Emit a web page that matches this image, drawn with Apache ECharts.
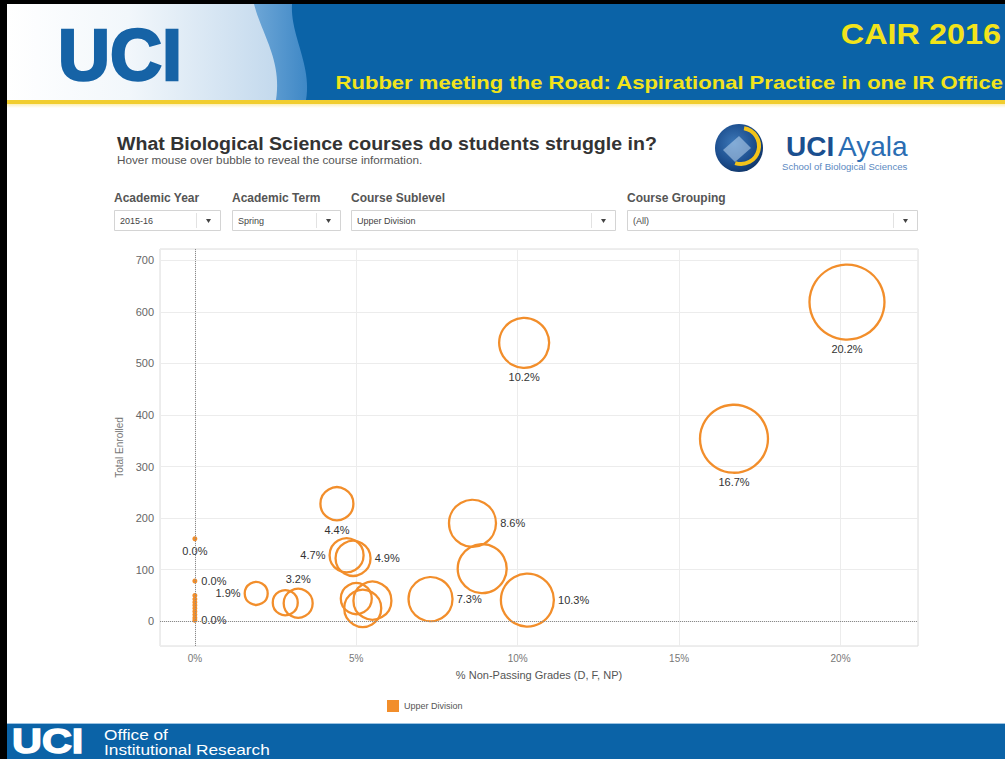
<!DOCTYPE html>
<html>
<head>
<meta charset="utf-8">
<title>What Biological Science courses do students struggle in?</title>
<script src="https://cdn.jsdelivr.net/npm/echarts@6/dist/echarts.min.js"></script>
<style>
  html, body { margin: 0; padding: 0; background: #000; }
  #chart { width: 1005px; height: 759px; }
</style>
</head>
<body>
<div id="chart"></div>
<script>
// Courses: % non-passing grades (D, F, NP) vs. total enrolled; bubble size by course measure
const pctNonPassing = [20.2, 10.2, 16.7, 4.4, 8.6, 8.9, 4.7, 4.9, 1.9, 2.8, 3.2, 5.0, 5.5, 5.2, 7.3, 10.3,
                       0.0, 0.0, 0.0, 0.0, 0.0, 0.0, 0.0, 0.0, 0.0, 0.0, 0.0];
const totalEnrolled = [619, 540, 354, 228, 190, 102, 128, 122, 54, 36, 35, 44, 40, 25, 43, 41,
                       160, 78, 50, 43, 37, 31, 25, 19, 13, 7, 2];
const sizeMeasure   = [75, 50, 68, 33, 47, 49, 34, 35, 23, 25, 29, 31, 38, 37, 44, 53,
                       0, 0, 0, 0, 0, 0, 0, 0, 0, 0, 0];

const xTickLabels = ['0%', '5%', '10%', '15%', '20%'];
const yTickLabels = ['0', '100', '200', '300', '400', '500', '600', '700'];

const seriesName = 'Upper Division';
const filterLabels = ['Academic Year', 'Academic Term', 'Course Sublevel', 'Course Grouping'];
const filterValues = ['2015-16', 'Spring', 'Upper Division', '(All)'];

// Which marks carry a value label, and where it sits
const labelPlacement = {
  0: 'bottom', 1: 'bottom', 2: 'bottom', 3: 'bottom', 4: 'right',
  6: 'left', 7: 'right', 8: 'left', 10: 'top', 14: 'right', 15: 'right',
  16: 'bottom', 17: 'right', 26: 'right'
};

const ORANGE = '#f28e2b';
const BLUE = '#0b63a7';
const YELLOW = '#f2e31b';
const FONT = '"Liberation Sans", Arial, sans-serif';

const chart = echarts.init(document.getElementById('chart'), null, { renderer: 'svg' });

const points = pctNonPassing.map((p, i) => {
  const item = { value: [p, totalEnrolled[i], sizeMeasure[i]] };
  const zero = sizeMeasure[i] === 0;
  item.itemStyle = zero
    ? { color: ORANGE, borderWidth: 0, opacity: 1 }
    : { color: 'rgba(255,255,255,0)', borderColor: ORANGE, borderWidth: 2.3, opacity: 1 };
  if (labelPlacement[i]) {
    item.label = {
      show: true,
      position: labelPlacement[i],
      distance: zero ? 4 : 3,
      offset: i === 10 ? [12, 0] : [0, 0]
    };
  }
  return item;
});

// Sample a cubic curve into polygon points (for the header's wave edge)
function wave(x0, y0, c1x, c1y, c2x, c2y, x1, y1) {
  const pts = [];
  for (let k = 0; k <= 24; k++) {
    const t = k / 24, u = 1 - t;
    pts.push([
      u * u * u * x0 + 3 * u * u * t * c1x + 3 * u * t * t * c2x + t * t * t * x1,
      u * u * u * y0 + 3 * u * u * t * c1y + 3 * u * t * t * c2y + t * t * t * y1
    ]);
  }
  return pts;
}

// Filter controls row
const filterX = [114, 232, 351, 627];
const filterW = [106, 108, 264, 290];
const filterGraphics = [];
filterLabels.forEach((t, i) => {
  filterGraphics.push({
    type: 'text', x: filterX[i], y: 198,
    style: { text: t, fill: '#555', font: 'bold 12px ' + FONT, textVerticalAlign: 'middle' }
  });
  filterGraphics.push({
    type: 'rect', shape: { x: filterX[i] + 0.5, y: 210.5, width: filterW[i], height: 20 },
    style: { fill: '#fff', stroke: '#d4d4d4', lineWidth: 1 }
  });
  filterGraphics.push({
    type: 'line', shape: { x1: filterX[i] + filterW[i] - 23.5, y1: 213, x2: filterX[i] + filterW[i] - 23.5, y2: 228 },
    style: { stroke: '#e2e2e2', lineWidth: 1 }
  });
  filterGraphics.push({
    type: 'text', x: filterX[i] + 6, y: 221,
    style: { text: filterValues[i], fill: '#444', font: '9px ' + FONT, textVerticalAlign: 'middle' }
  });
  filterGraphics.push({
    type: 'polygon',
    shape: { points: [[filterX[i] + filterW[i] - 14, 219], [filterX[i] + filterW[i] - 9, 219], [filterX[i] + filterW[i] - 11.5, 223]] },
    style: { fill: '#444' }
  });
});

const option = {
  backgroundColor: '#000',
  animation: false,
  textStyle: { fontFamily: FONT },
  graphic: [
    // slide body
    { type: 'rect', z: -10, shape: { x: 7, y: 4, width: 998, height: 755 }, style: { fill: '#fff' } },
    // header band
    { type: 'rect', z: -9, shape: { x: 7, y: 4, width: 998, height: 96 }, style: { fill: BLUE } },
    { type: 'polygon', z: -8,
      shape: { points: [[7, 4]].concat(wave(292, 4, 290, 35, 312, 65, 306, 100), [[7, 100]]) },
      style: { fill: new echarts.graphic.LinearGradient(0, 0, 1, 0, [
        { offset: 0.7, color: '#8dbbe2' }, { offset: 1, color: '#3f88c6' }]) } },
    { type: 'polygon', z: -7,
      shape: { points: [[7, 4]].concat(wave(254, 4, 262, 35, 282, 60, 276, 100), [[7, 100]]) },
      style: { fill: new echarts.graphic.LinearGradient(0, 0, 1, 0, [
        { offset: 0, color: '#ffffff' }, { offset: 0.45, color: '#f2f7fb' }, { offset: 1, color: '#c3d9ed' }]) } },
    { type: 'text', x: 58, y: 55,
      style: { text: 'UCI', fill: '#1663a6', font: 'bold 72px ' + FONT, textVerticalAlign: 'middle',
               stroke: '#1663a6', lineWidth: 2.5 } },
    { type: 'text', x: 1001, y: 34, scaleX: 1.08,
      style: { text: 'CAIR 2016', fill: YELLOW, font: 'bold 30px ' + FONT, textAlign: 'right', textVerticalAlign: 'middle' } },
    { type: 'text', x: 1003, y: 82, scaleX: 1.16,
      style: { text: 'Rubber meeting the Road: Aspirational Practice in one IR Office', fill: YELLOW,
               font: 'bold 19px ' + FONT, textAlign: 'right', textVerticalAlign: 'middle' } },
    // gold rule under the header
    { type: 'rect', shape: { x: 7, y: 100, width: 998, height: 4 }, style: { fill: '#f1cd2e' } },
    { type: 'rect', shape: { x: 7, y: 104, width: 998, height: 4 },
      style: { fill: new echarts.graphic.LinearGradient(0, 0, 0, 1, [
        { offset: 0, color: '#fbeeb8' }, { offset: 1, color: '#ffffff' }]) } },

    // dashboard title
    { type: 'text', x: 117, y: 143.5, scaleX: 1.03,
      style: { text: 'What Biological Science courses do students struggle in?', fill: '#333',
               font: 'bold 19px ' + FONT, textVerticalAlign: 'middle' } },
    { type: 'text', x: 117, y: 160.5, scaleX: 1.03,
      style: { text: 'Hover mouse over bubble to reveal the course information.', fill: '#555',
               font: '11.4px ' + FONT, textVerticalAlign: 'middle' } },

    // school logo
    { type: 'circle', shape: { cx: 739, cy: 148, r: 24 },
      style: { fill: new echarts.graphic.RadialGradient(0.4, 0.4, 0.7, [
        { offset: 0, color: '#3d78b8' }, { offset: 0.6, color: '#1d4f8f' }, { offset: 1, color: '#0d2f5f' }]) } },
    { type: 'polygon', shape: { points: [[723, 150], [739, 136], [751, 148], [735, 162]] },
      style: { fill: 'rgba(190,215,240,0.55)' } },
    { type: 'arc', shape: { cx: 741, cy: 146, r: 18, startAngle: -1.4, endAngle: 1.9 },
      style: { stroke: '#f3c31a', lineWidth: 4, fill: 'none' } },
    { type: 'text', x: 786, y: 146,
      style: { text: 'UCI', fill: '#1b4f8f', font: 'bold 28px ' + FONT, textVerticalAlign: 'middle' } },
    { type: 'text', x: 838, y: 146,
      style: { text: 'Ayala', fill: '#2a6db3', font: '28px ' + FONT, textVerticalAlign: 'middle' } },
    { type: 'text', x: 782, y: 166,
      style: { text: 'School of Biological Sciences', fill: '#5b89bf', font: '9.6px ' + FONT, textVerticalAlign: 'middle' } },

    ...filterGraphics,

    // footer band
    { type: 'rect', shape: { x: 7, y: 724, width: 998, height: 35 }, style: { fill: BLUE } },
    { type: 'rect', shape: { x: 7, y: 723, width: 998, height: 1 }, style: { fill: '#9cc3e2' } },
    { type: 'text', x: 12, y: 740, scaleX: 1.15,
      style: { text: 'UCI', fill: '#fff', font: 'bold 36px ' + FONT, textVerticalAlign: 'middle',
               stroke: '#fff', lineWidth: 1.5 } },
    { type: 'text', x: 104, y: 734, scaleX: 1.15,
      style: { text: 'Office of', fill: '#fff', font: '15px ' + FONT, textVerticalAlign: 'middle' } },
    { type: 'text', x: 104, y: 749.5, scaleX: 1.15,
      style: { text: 'Institutional Research', fill: '#fff', font: '15px ' + FONT, textVerticalAlign: 'middle' } }
  ],
  legend: {
    left: 387, top: 700, padding: 0,
    itemWidth: 12, itemHeight: 12, itemGap: 8,
    icon: 'rect',
    data: [{ name: seriesName, itemStyle: { color: ORANGE, borderWidth: 0, opacity: 1 } }],
    textStyle: { color: '#555', fontSize: 9, fontFamily: FONT }
  },
  grid: {
    left: 160, top: 249, right: 87, bottom: 113,
    show: true, borderColor: '#dcdcdc', borderWidth: 1, backgroundColor: 'transparent'
  },
  xAxis: {
    type: 'value', min: -1.08, max: 22.4, splitNumber: 5,
    name: '% Non-Passing Grades (D, F, NP)', nameLocation: 'middle', nameGap: 23,
    nameTextStyle: { color: '#555', fontSize: 11, fontFamily: FONT },
    axisLine: { show: false }, axisTick: { show: false },
    axisLabel: {
      color: '#777', fontSize: 10, margin: 7, showMinLabel: false, showMaxLabel: false,
      formatter: v => xTickLabels[Math.round(v / 5)]
    },
    splitLine: { show: true, lineStyle: { color: '#ececec', width: 1 } }
  },
  yAxis: {
    type: 'value', min: -48, max: 722, splitNumber: 7,
    name: 'Total Enrolled', nameLocation: 'middle', nameGap: 35, nameRotate: 90,
    nameTextStyle: { color: '#777', fontSize: 10, fontFamily: FONT },
    axisLine: { show: false }, axisTick: { show: false },
    axisLabel: {
      color: '#666', fontSize: 11, margin: 6, showMinLabel: false, showMaxLabel: false,
      formatter: v => yTickLabels[Math.round(v / 100)]
    },
    splitLine: { show: true, lineStyle: { color: '#ececec', width: 1 } }
  },
  series: [{
    name: seriesName,
    type: 'scatter',
    symbol: 'circle',
    symbolSize: v => (v[2] > 0 ? v[2] : 5),
    data: points,
    itemStyle: { color: ORANGE, opacity: 1 },
    label: {
      show: false, color: '#333', fontSize: 11, fontFamily: FONT,
      formatter: p => p.value[0].toFixed(1) + '%'
    },
    labelLayout: { hideOverlap: false },
    markLine: {
      silent: true, symbol: 'none', animation: false,
      label: { show: false },
      lineStyle: { type: 'dotted', color: '#8a8a8a', width: 1 },
      data: [{ xAxis: 0 }, { yAxis: 0 }]
    },
    z: 3
  }]
};

chart.setOption(option);
</script>
</body>
</html>
